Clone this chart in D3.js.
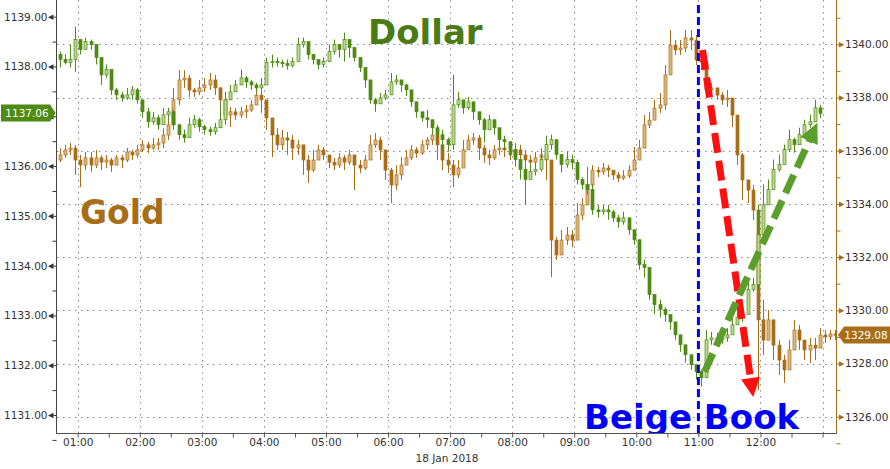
<!DOCTYPE html>
<html><head><meta charset="utf-8">
<script src="https://cdn.jsdelivr.net/npm/d3@7"></script>
<style>html,body{margin:0;padding:0;background:#fff;} svg{display:block;font-family:"DejaVu Sans",sans-serif;}</style>
</head><body><svg id="c" width="890" height="469"></svg>
<script>
// ---------- DATA ----------
const candleStart = "00:40";      // first 5-minute candle
const candleStepMin = 5;

const dollarOpen0 = 1138.24;
const dollarClose = [
1138.14,1138.08,1138.14,1138.54,1138.34,1138.50,1138.44,1138.18,1137.83,1137.94,
1137.53,1137.43,1137.37,1137.43,1137.53,1137.33,1137.09,1136.89,1136.97,1136.83,
1137.03,1137.09,1136.83,1136.63,1136.57,1136.83,1136.93,1136.79,1136.73,1136.69,
1136.77,1136.93,1137.33,1137.49,1137.63,1137.77,1137.69,1137.63,1137.57,1137.63,
1138.08,1138.10,1138.08,1138.06,1138.02,1138.10,1138.44,1138.50,1138.24,1138.14,
1138.04,1138.10,1138.30,1138.44,1138.34,1138.54,1138.38,1138.18,1137.98,1137.73,
1137.33,1137.25,1137.37,1137.43,1137.69,1137.73,1137.63,1137.53,1137.29,1137.09,
1136.97,1136.93,1136.77,1136.63,1136.53,1136.43,1137.23,1137.33,1137.17,1137.29,
1137.09,1136.93,1136.73,1136.93,1136.77,1136.53,1136.49,1136.33,1136.13,1135.93,
1135.73,1135.89,1135.93,1136.13,1136.43,1136.53,1136.23,1136.03,1136.13,1136.07,
1135.73,1135.63,1135.53,1135.12,1135.08,1135.12,1135.08,1134.96,1134.88,1134.96,
1134.72,1134.52,1134.02,1133.96,1133.42,1133.22,1133.12,1133.02,1132.87,1132.61,
1132.41,1132.21,1132.01,1131.87,1131.75,1132.51,1132.55,1132.51,1132.55,1132.61,
1132.81,1132.96,1133.02,1133.52,1133.62,1134.62,1135.22,1135.53,1135.93,1136.03,
1136.33,1136.53,1136.43,1136.63,1136.83,1136.89,1137.17,1137.06];
const dollarHigh = [
1138.30,1138.24,1138.44,1138.80,1138.50,1138.58,1138.54,1138.30,1137.98,1138.04,
1137.73,1137.57,1137.49,1137.57,1137.61,1137.57,1137.33,1137.17,1137.09,1137.03,
1137.17,1137.17,1137.13,1136.83,1136.73,1136.97,1137.03,1136.97,1136.83,1136.79,
1136.87,1137.23,1137.49,1137.63,1137.73,1137.94,1137.81,1137.73,1137.67,1137.77,
1138.18,1138.24,1138.18,1138.14,1138.14,1138.18,1138.58,1138.58,1138.44,1138.24,
1138.14,1138.18,1138.44,1138.54,1138.44,1138.68,1138.50,1138.34,1138.10,1137.89,
1137.63,1137.37,1137.47,1137.53,1137.87,1137.83,1137.73,1137.65,1137.49,1137.23,
1137.09,1137.13,1136.93,1136.83,1136.73,1136.57,1137.83,1137.49,1137.33,1137.39,
1137.23,1137.09,1136.97,1137.03,1136.93,1136.73,1136.61,1136.49,1136.33,1136.13,
1136.03,1136.03,1136.07,1136.33,1136.61,1136.63,1136.53,1136.23,1136.29,1136.23,
1136.13,1135.77,1135.73,1135.63,1135.22,1135.22,1135.22,1135.12,1135.02,1135.08,
1134.88,1134.72,1134.38,1134.12,1133.82,1133.42,1133.32,1133.16,1133.02,1132.81,
1132.55,1132.35,1132.21,1132.01,1131.91,1132.71,1132.67,1132.65,1132.65,1132.75,
1132.96,1133.08,1133.16,1133.72,1133.76,1135.22,1135.63,1135.73,1136.13,1136.23,
1136.43,1136.73,1136.57,1136.77,1136.93,1137.03,1137.33,1137.23];
const dollarLow = [
1137.98,1138.04,1137.98,1137.89,1138.24,1138.34,1138.34,1138.04,1137.63,1137.77,
1137.43,1137.33,1137.29,1137.33,1137.33,1137.25,1136.97,1136.77,1136.83,1136.73,
1136.83,1136.97,1136.73,1136.53,1136.47,1136.69,1136.77,1136.69,1136.63,1136.61,
1136.63,1136.77,1137.13,1137.33,1137.49,1137.65,1137.57,1137.53,1137.49,1137.53,
1137.63,1137.98,1138.00,1137.98,1137.94,1137.98,1138.10,1138.38,1138.14,1138.04,
1137.94,1137.98,1138.14,1138.24,1138.18,1138.10,1138.18,1138.10,1137.89,1137.57,
1137.25,1137.09,1137.27,1137.33,1137.49,1137.63,1137.49,1137.41,1137.19,1136.97,
1136.89,1136.77,1136.65,1136.53,1136.33,1136.29,1136.33,1137.17,1137.05,1137.13,
1136.93,1136.83,1136.47,1136.73,1136.63,1136.43,1136.33,1136.21,1135.99,1135.73,
1135.22,1135.73,1135.81,1135.89,1136.13,1136.33,1136.13,1135.87,1135.97,1135.93,
1135.63,1135.53,1135.43,1135.02,1134.96,1135.02,1134.92,1134.88,1134.76,1134.82,
1134.62,1134.42,1133.92,1133.76,1133.32,1133.02,1132.96,1132.87,1132.71,1132.51,
1132.27,1132.05,1131.91,1131.71,1131.57,1131.87,1132.41,1132.39,1132.43,1132.47,
1132.67,1132.81,1132.87,1133.12,1133.48,1133.52,1135.02,1135.33,1135.69,1135.89,
1136.13,1136.29,1136.27,1136.49,1136.63,1136.77,1136.93,1136.97];

const goldOpen0 = 1335.65;
const goldClose = [
1335.84,1336.03,1336.10,1335.65,1335.46,1335.73,1335.46,1335.73,1335.57,1335.65,
1335.46,1335.73,1335.65,1335.95,1335.84,1336.03,1336.22,1336.10,1336.22,1336.29,
1336.59,1336.97,1337.91,1338.66,1338.73,1338.28,1338.21,1338.36,1338.47,1338.66,
1338.36,1337.91,1337.34,1337.46,1337.34,1337.46,1337.53,1337.72,1338.09,1337.91,
1337.23,1336.59,1336.22,1336.48,1336.40,1336.10,1336.22,1335.65,1335.27,1335.65,
1336.03,1335.84,1335.57,1335.46,1335.73,1335.57,1335.84,1335.46,1335.35,1335.65,
1336.22,1336.40,1336.03,1335.27,1334.71,1335.09,1335.46,1335.73,1336.03,1335.91,
1336.22,1336.40,1336.59,1336.22,1335.65,1335.46,1335.09,1335.35,1336.03,1336.40,
1336.48,1336.10,1335.84,1335.73,1336.03,1336.10,1336.03,1335.84,1336.03,1335.84,
1335.65,1335.57,1335.73,1335.84,1335.65,1332.64,1332.08,1332.64,1332.83,1332.64,
1333.58,1333.96,1334.71,1335.27,1335.20,1335.35,1335.27,1335.09,1334.97,1335.05,
1335.27,1335.65,1336.10,1336.97,1337.15,1337.60,1337.72,1338.85,1339.97,1339.79,
1339.86,1340.24,1340.16,1339.41,1339.33,1338.28,1338.36,1338.09,1337.91,1337.98,
1337.34,1335.84,1334.90,1334.52,1333.77,1329.64,1328.88,1329.64,1328.69,1328.13,
1327.76,1328.51,1329.26,1328.88,1328.51,1328.69,1328.58,1329.07,1329.00,1329.11,1329.08];
const goldHigh = [
1336.10,1336.22,1336.29,1336.22,1335.84,1335.95,1335.95,1336.03,1335.84,1335.84,
1335.73,1335.84,1335.84,1336.10,1336.03,1336.22,1336.40,1336.33,1336.48,1336.48,
1336.85,1337.34,1338.36,1339.03,1339.03,1338.85,1338.36,1338.66,1338.73,1338.92,
1338.85,1338.39,1337.72,1337.64,1337.60,1337.64,1337.72,1337.91,1338.36,1338.39,
1337.79,1337.15,1336.85,1336.78,1336.70,1336.59,1336.40,1336.03,1335.84,1336.03,
1336.22,1336.14,1335.84,1335.73,1335.91,1335.84,1336.03,1335.84,1335.65,1335.84,
1336.59,1336.67,1336.52,1336.03,1335.35,1335.46,1335.76,1336.03,1336.22,1336.14,
1336.40,1336.52,1336.85,1336.89,1336.59,1335.91,1335.65,1335.65,1336.40,1336.59,
1336.67,1336.59,1336.22,1336.03,1336.22,1336.29,1336.22,1336.10,1336.29,1336.22,
1336.03,1335.84,1335.95,1336.10,1336.14,1335.46,1332.76,1333.02,1333.13,1333.02,
1334.03,1334.22,1335.39,1335.46,1335.39,1335.54,1335.46,1335.27,1335.20,1335.27,
1335.46,1336.14,1336.40,1337.34,1337.46,1337.91,1338.17,1339.22,1340.54,1340.16,
1340.16,1340.54,1340.54,1340.35,1339.60,1338.58,1338.54,1338.36,1338.21,1338.28,
1337.79,1336.97,1335.91,1334.90,1334.71,1333.77,1330.39,1330.01,1329.45,1328.88,
1328.32,1328.88,1329.64,1329.45,1328.88,1328.96,1328.96,1329.33,1329.26,1329.26,1329.26];
const goldLow = [
1335.57,1335.73,1335.84,1335.09,1334.63,1335.27,1335.20,1335.35,1335.27,1335.35,
1335.20,1335.46,1335.35,1335.57,1335.65,1335.73,1335.95,1335.91,1336.03,1336.03,
1336.10,1336.40,1336.97,1337.72,1338.36,1338.02,1338.02,1338.09,1338.21,1338.28,
1338.09,1337.15,1336.97,1336.89,1337.15,1337.23,1337.23,1337.46,1337.72,1337.42,
1336.78,1335.76,1336.03,1336.03,1335.84,1335.65,1335.84,1335.09,1334.79,1335.20,
1335.73,1335.65,1335.35,1335.27,1335.35,1335.27,1335.46,1334.52,1335.16,1335.27,
1335.65,1336.10,1335.65,1334.90,1334.03,1334.52,1334.90,1335.46,1335.65,1335.73,
1335.84,1336.03,1336.22,1335.65,1335.27,1335.16,1334.63,1334.97,1335.46,1336.03,
1336.22,1335.65,1335.54,1335.46,1335.65,1335.84,1335.76,1335.65,1335.73,1335.65,
1335.35,1335.27,1335.46,1335.46,1334.90,1331.25,1331.89,1332.27,1332.46,1332.38,
1332.83,1333.39,1334.33,1334.90,1335.01,1335.09,1335.01,1334.90,1334.82,1334.90,
1334.97,1335.46,1335.84,1336.59,1336.85,1337.23,1337.42,1337.53,1339.41,1339.60,
1339.60,1339.71,1339.79,1339.22,1339.03,1338.02,1338.09,1337.91,1337.72,1337.64,
1336.89,1335.46,1334.15,1334.03,1333.39,1327.00,1328.32,1328.88,1328.13,1327.57,
1327.27,1327.94,1328.69,1328.51,1328.13,1328.02,1328.13,1328.81,1328.77,1328.88,1328.88];

const leftTicks  = [1131,1132,1133,1134,1135,1136,1137,1138,1139];
const leftMinor  = [1130.5,1131.5,1132.5,1133.5,1134.5,1135.5,1136.5,1137.5,1138.5];
const rightTicks = [1326,1328,1330,1332,1334,1336,1338,1340];
const rightMinor = [1325,1327,1329,1331,1333,1335,1337,1339,1341];
const hourTicks  = ["01:00","02:00","03:00","04:00","05:00","06:00","07:00","08:00","09:00","10:00","11:00","12:00","13:00"];
const hourLabels = ["01:00","02:00","03:00","04:00","05:00","06:00","07:00","08:00","09:00","10:00","11:00","12:00"];
const halfTicks  = ["00:30","01:30","02:30","03:30","04:30","05:30","06:30","07:30","08:30","09:30","10:30","11:30","12:30"];
const dateLabel  = "18 Jan 2018";
const lastDollar = 1137.06, lastGold = 1329.08;
const eventTime  = "11:00";
const redArrow   = {from:["11:04",1339.79], to:["11:53",1326.74]};   // gold scale
const greenArrow = {from:["11:06",1131.87], to:["12:55",1136.87]};   // dollar scale

// ---------- SCALES ----------
const T = s => d3.timeParse("%Y-%m-%d %H:%M")("2018-01-18 " + s);
const W = 890, H = 469, L = 57, R = 836, TOP = 0, BOT = 433;
const x  = d3.scaleTime().domain([T("00:40"), T("13:13")]).range([L, R]);
const yL = d3.scaleLinear().domain([1131, 1139]).range([415, 16.7]);
const yR = d3.scaleLinear().domain([1326, 1340]).range([416.7, 44.3]);

const svg = d3.select("#c");
svg.append("defs").append("clipPath").attr("id","plot")
  .append("rect").attr("x",L).attr("y",TOP).attr("width",R-L).attr("height",BOT-TOP);

// grid
const grid = svg.append("g").attr("stroke","#8a8a8a").attr("stroke-width",1).attr("stroke-dasharray","1.5,4.5");
grid.selectAll("line.h").data(rightTicks).join("line")
  .attr("x1",L).attr("x2",R).attr("y1",d=>Math.round(yR(d))+0.5).attr("y2",d=>Math.round(yR(d))+0.5);
grid.selectAll("line.v").data(hourTicks).join("line")
  .attr("y1",TOP).attr("y2",BOT).attr("x1",d=>Math.round(x(T(d)))+0.5).attr("x2",d=>Math.round(x(T(d)))+0.5);

// candles
function candles(open0, close, high, low, y, dark, light) {
  const g = svg.append("g").attr("clip-path","url(#plot)");
  const t0 = T(candleStart);
  close.forEach((c, i) => {
    const o = i === 0 ? open0 : close[i-1];
    const h = Math.max(high[i], o, c), l = Math.min(low[i], o, c);
    const t = new Date(t0.getTime() + (i*candleStepMin + candleStepMin/2)*60000);
    const cx = Math.round(x(t)) + 0.5;
    g.append("line").attr("x1",cx).attr("x2",cx).attr("y1",y(h)).attr("y2",y(l))
      .attr("stroke",dark).attr("stroke-width",1);
    const top = Math.min(y(o), y(c)), ht = Math.max(1.2, Math.abs(y(o)-y(c)));
    const up = c >= o;
    g.append("rect").attr("x",cx-1.5).attr("width",3).attr("y",top).attr("height",ht)
      .attr("fill", up ? light : dark).attr("stroke",dark).attr("stroke-width",0.7);
  });
}
candles(goldOpen0, goldClose, goldHigh, goldLow, yR, "#a86e17", "#dcb983");
candles(dollarOpen0, dollarClose, dollarHigh, dollarLow, yL, "#4f8a12", "#bcd98f");

// event line
const ex = x(T(eventTime));
svg.append("line").attr("x1",ex).attr("x2",ex).attr("y1",5).attr("y2",BOT)
  .attr("stroke","#0000ff").attr("stroke-width",3).attr("stroke-dasharray","8,4");

// arrows
function arrow(a, y, color, w, headL, headW, dash) {
  const x1 = x(T(a.from[0])), y1 = y(a.from[1]), x2 = x(T(a.to[0])), y2 = y(a.to[1]);
  const len = Math.hypot(x2-x1, y2-y1), ux = (x2-x1)/len, uy = (y2-y1)/len;
  const bx = x2 - ux*headL, by = y2 - uy*headL;
  svg.append("line").attr("x1",x1).attr("y1",y1).attr("x2",bx+ux*2).attr("y2",by+uy*2)
    .attr("stroke",color).attr("stroke-width",w).attr("stroke-dasharray",dash);
  const px = -uy, py = ux;
  svg.append("path").attr("fill",color)
    .attr("d",`M${x2},${y2}L${bx+px*headW/2},${by+py*headW/2}L${bx-px*headW/2},${by-py*headW/2}Z`);
}
arrow(redArrow, yR, "#ff1010", 7, 19, 19, "20,8");
arrow(greenArrow, yL, "#5c9e2c", 7, 20, 19, "20,8");

// axes lines
svg.append("line").attr("x1",56.5).attr("x2",56.5).attr("y1",0).attr("y2",BOT+0.5).attr("stroke","#444");
svg.append("line").attr("x1",836.5).attr("x2",836.5).attr("y1",0).attr("y2",BOT+0.5).attr("stroke","#a86e17");
svg.append("line").attr("x1",56).attr("x2",837).attr("y1",BOT+0.5).attr("y2",BOT+0.5).attr("stroke","#555");

// left axis (label hidden where the last-value tag sits)
const yd = Math.round(yL(lastDollar));
const la = svg.append("g").attr("transform","translate(56.5,0)")
  .call(d3.axisLeft(yL).tickValues(leftTicks)
    .tickFormat(d => Math.abs(yL(d) - yd) < 14 ? "" : d3.format(".2f")(d)).tickSize(3).tickPadding(6));
la.select(".domain").remove();
la.selectAll(".tick line").attr("stroke","#333");
la.selectAll(".tick").append("path").attr("d","M-8.5,0L-3,-2.8L-3,2.8Z").attr("fill","#333");
la.selectAll("text").attr("fill","#333").style("font-size","10.5px").style("font-family","DejaVu Sans");
const lm = svg.append("g").attr("transform","translate(56.5,0)")
  .call(d3.axisLeft(yL).tickValues(leftMinor).tickFormat("").tickSize(4));
lm.select(".domain").remove(); lm.selectAll(".tick line").attr("stroke","#333");

// right axis
const yg = Math.round(yR(lastGold));
const ra = svg.append("g").attr("transform","translate(836.5,0)")
  .call(d3.axisRight(yR).tickValues(rightTicks)
    .tickFormat(d => Math.abs(yR(d) - yg) < 14 ? "" : d3.format(".2f")(d)).tickSize(3).tickPadding(5.5));
ra.select(".domain").remove();
ra.selectAll(".tick line").attr("stroke","#a86e17");
ra.selectAll(".tick").append("path").attr("d","M2.5,-2.8L8,0L2.5,2.8Z").attr("fill","#a86e17");
ra.selectAll("text").attr("fill","#333").style("font-size","10.5px").style("font-family","DejaVu Sans");
const rm = svg.append("g").attr("transform","translate(836.5,0)")
  .call(d3.axisRight(yR).tickValues(rightMinor).tickFormat("").tickSize(4));
rm.select(".domain").remove(); rm.selectAll(".tick line").attr("stroke","#a86e17");

// bottom axis
const ba = svg.append("g").attr("transform",`translate(0,${BOT+0.5})`)
  .call(d3.axisBottom(x).tickValues(hourTicks.map(T))
    .tickFormat(d => { const s = d3.timeFormat("%H:%M")(d); return hourLabels.includes(s) ? s : ""; })
    .tickSize(4).tickPadding(1));
ba.select(".domain").remove();
ba.selectAll(".tick line").attr("stroke","#555");
ba.selectAll("text").attr("fill","#333").style("font-size","10.5px").style("font-family","DejaVu Sans");
const bm = svg.append("g").attr("transform",`translate(0,${BOT+0.5})`)
  .call(d3.axisBottom(x).tickValues(halfTicks.map(T).filter(d=>x(d)>L)).tickFormat("").tickSize(4));
bm.select(".domain").remove(); bm.selectAll(".tick line").attr("stroke","#555");
svg.append("text").attr("x",447).attr("y",462).attr("text-anchor","middle")
  .attr("fill","#333").style("font-size","10.5px").text(dateLabel);

// last value tags
svg.append("path").attr("fill","#4f8a12")
  .attr("d",`M1,${yd-8.5}L50,${yd-8.5}L55.5,${yd}L50,${yd+8.5}L1,${yd+8.5}Z`);
svg.append("text").attr("x",27).attr("y",yd+4).attr("text-anchor","middle").attr("fill","#fff")
  .style("font-size","10.5px").text(d3.format(".2f")(lastDollar));
svg.append("path").attr("fill","#a86e17")
  .attr("d",`M838,${yg}L844,${yg-8.5}L890,${yg-8.5}L890,${yg+8.5}L844,${yg+8.5}Z`);
svg.append("text").attr("x",866).attr("y",yg+4).attr("text-anchor","middle").attr("fill","#fff")
  .style("font-size","10.5px").text(d3.format(".2f")(lastGold));

// annotations
svg.append("text").attr("x",368).attr("y",44).attr("fill","#4a7c16")
  .style("font-size","34px").style("font-weight","bold").text("Dollar");
svg.append("text").attr("x",80).attr("y",224).attr("fill","#a86e17")
  .style("font-size","33px").style("font-weight","bold").text("Gold");
svg.append("g").attr("clip-path","url(#plot)").append("text").attr("x",584).attr("y",429).attr("fill","#0000ff")
  .style("font-size","34px").style("font-weight","bold").text("Beige Book");
</script></body></html>
